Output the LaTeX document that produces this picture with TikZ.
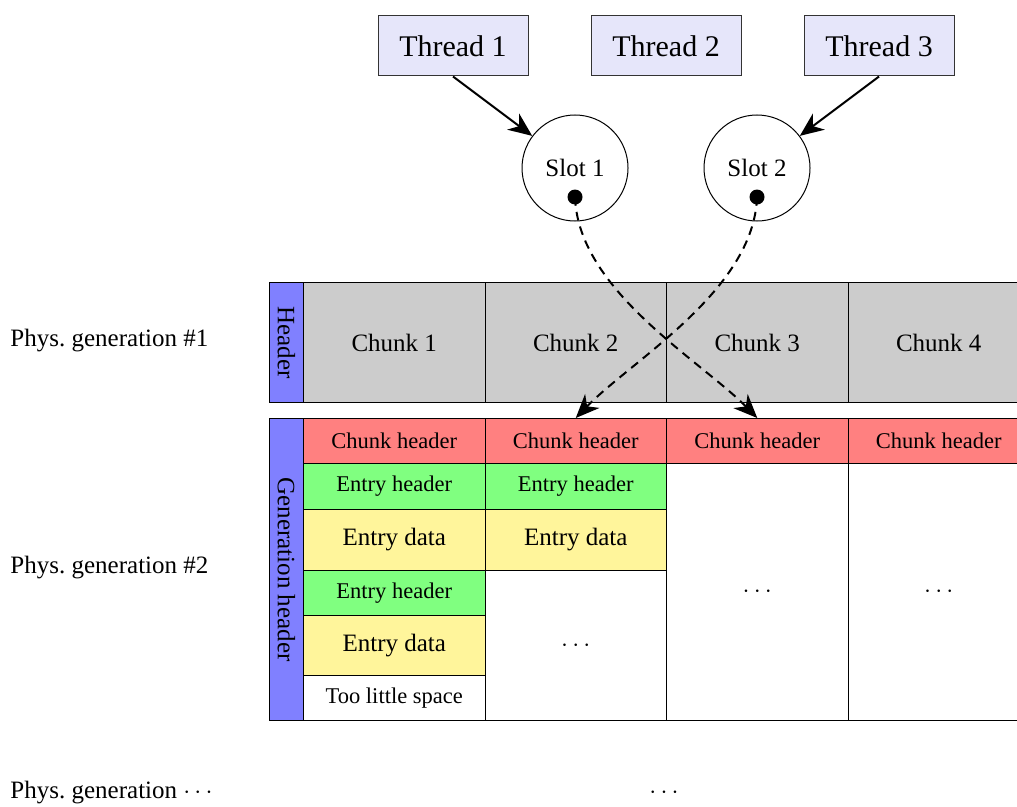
\documentclass[tikz,border=0pt]{standalone}
\usepackage{fontspec}
\setmainfont{Liberation Serif}
\usetikzlibrary{arrows.meta}
\definecolor{thr}{RGB}{230,230,250}
\definecolor{hdr}{RGB}{128,128,255}
\definecolor{chk}{RGB}{204,204,204}
\definecolor{chred}{RGB}{255,128,128}
\definecolor{engreen}{RGB}{128,255,128}
\definecolor{enyellow}{RGB}{255,245,155}
\begin{document}
\begin{tikzpicture}[x=0.4pt,y=-0.4pt,
  thread/.style={draw=black!80, fill=thr, minimum width=60pt, minimum height=24pt, inner sep=0, font=\large},
  slot/.style={draw, circle, minimum size=42.4pt, inner sep=0},
  cell/.style={draw, inner sep=0, minimum width=72.6pt, anchor=north west},
  bar/.style={draw, fill=hdr, inner sep=0, minimum width=13.6pt, anchor=north west},
  chunkh/.style={cell, fill=chred, minimum height=18pt, font=\small},
  entryh/.style={cell, fill=engreen, font=\small},
  entryd/.style={cell, fill=enyellow},
  lbl/.style={anchor=west, inner sep=0},
  tharrow/.style={thick, -{Stealth[length=9.5pt,width=8pt,inset=3pt]}},
  ptrarrow/.style={thick, dash pattern=on 3.5pt off 2.5pt, -{Stealth[length=9.5pt,width=8pt,inset=3pt]}}
]
\useasboundingbox (0,0) rectangle (1017,806);
\clip (0,0) rectangle (1017,806);

% threads and slots
\node[thread] (t1) at (453,46) {Thread 1};
\node[thread] (t2) at (666,46) {Thread 2};
\node[thread] (t3) at (879,46) {Thread 3};
\node[slot] (s1) at (575,168) {Slot 1};
\node[slot] (s2) at (757,168) {Slot 2};
\coordinate (d1) at (575,197);
\coordinate (d2) at (757,197);
\fill (d1) circle[radius=3pt];
\fill (d2) circle[radius=3pt];
\draw[tharrow] (t1.south) -- (s1);
\draw[tharrow] (t3.south) -- (s2);

% generation 1
\node[bar, minimum height=48pt] (g1h) at (269,282) {};
\node[rotate=-90] (g1t) at (g1h.center) {Header};
\node[cell, fill=chk, minimum height=48pt] (c1) at (303,282) {Chunk 1};
\node[cell, fill=chk, minimum height=48pt] (c2) at (484.5,282) {Chunk 2};
\node[cell, fill=chk, minimum height=48pt] (c3) at (666,282) {Chunk 3};
\node[cell, fill=chk, minimum height=48pt] (c4) at (847.5,282) {Chunk 4};

% generation 2
\node[bar, minimum height=120.8pt] (g2h) at (269,418) {};
\node[rotate=-90] (g2t) at (g2h.center) {Generation header};
% column 1
\node[chunkh] (h1) at (303,418) {Chunk header};
\node[entryh, minimum height=18.4pt] (e11) at (303,463) {Entry header};
\node[entryd, minimum height=24.4pt] (d11) at (303,509) {Entry data};
\node[entryh, minimum height=18pt] (e12) at (303,570) {Entry header};
\node[entryd, minimum height=24pt] (d12) at (303,615) {Entry data};
\node[cell, minimum height=18pt, font=\small] (tl) at (303,675) {Too little space};
% column 2
\node[chunkh] (h2) at (484.5,418) {Chunk header};
\node[entryh, minimum height=18.4pt] (e21) at (484.5,463) {Entry header};
\node[entryd, minimum height=24.4pt] (d21) at (484.5,509) {Entry data};
\node[cell, minimum height=60pt] (r2) at (484.5,570) {$\cdots$};
% column 3
\node[chunkh] (h3) at (666,418) {Chunk header};
\node[cell, minimum height=102.8pt] (r3) at (666,463) {$\cdots$};
% column 4
\node[chunkh] (h4) at (847.5,418) {Chunk header};
\node[cell, minimum height=102.8pt] (r4) at (847.5,463) {$\cdots$};

% pointers
\draw[ptrarrow] (d1) .. controls (578,290) and (700,360) .. (h3.north);
\draw[ptrarrow] (d2) .. controls (754,290) and (632,360) .. (h2.north);

% labels
\node[lbl] (p1) at (10,341) {Phys.\ generation \#1};
\node[lbl] (p2) at (10,568) {Phys.\ generation \#2};
\node[lbl] (p3) at (10,793) {Phys.\ generation $\cdots$};
\node (dd) at (664,793) {$\cdots$};
\end{tikzpicture}
\end{document}
